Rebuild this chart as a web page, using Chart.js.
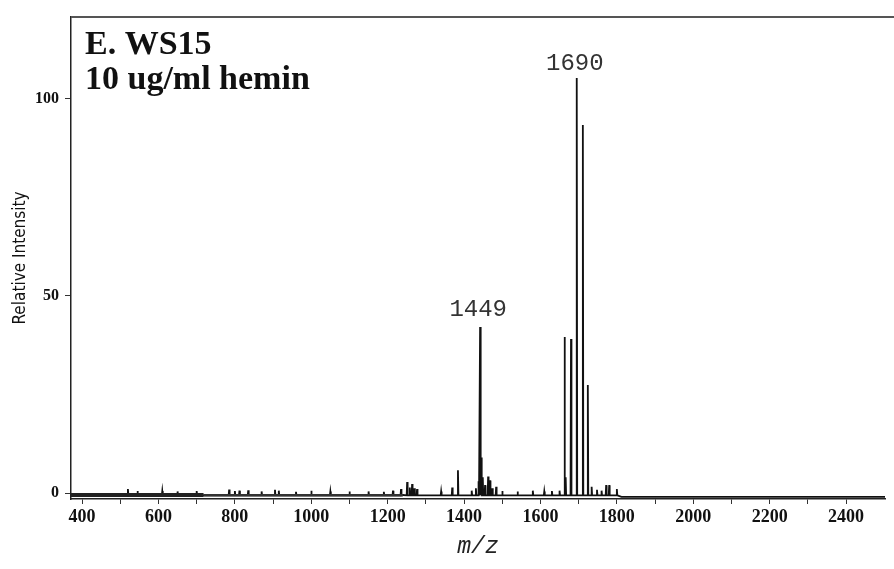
<!DOCTYPE html>
<html>
<head>
<meta charset="utf-8">
<script src="https://cdn.jsdelivr.net/npm/chart.js@4.4.1/dist/chart.umd.min.js"></script>
<style>
    html, body { margin: 0; padding: 0; background: #fff; }
    #wrap { width: 894px; height: 569px; position: relative; }
</style>
</head>
<body>
<div id="wrap"><canvas id="ms"></canvas></div>
<script>
// Sticks of the spectrum (m/z, relative intensity)
const peakMz = [520, 545, 610, 650, 700, 785, 800, 812, 835, 870, 905, 915, 960, 1000, 1050, 1100, 1150, 1190,
    1214, 1235, 1251, 1258, 1264, 1270, 1277, 1340, 1369, 1384, 1420, 1431, 1438, 1442, 1445, 1449, 1455,
    1463, 1468, 1474, 1484, 1500, 1540, 1580, 1610, 1630, 1650, 1663, 1666, 1680, 1695, 1711, 1724,
    1734, 1748, 1760, 1772, 1780, 1800];
const peakHeight = [1.0, 0.5, 0.5, 0.4, 0.5, 0.9, 0.5, 0.6, 0.7, 0.4, 0.8, 0.6, 0.3, 0.6, 0.4, 0.4, 0.4, 0.3,
    0.6, 1.0, 2.8, 1.4, 2.3, 1.2, 1.0, 0.4, 1.4, 5.8, 0.6, 1.2, 3.0, 42.1, 9.0, 4.0, 2.0,
    4.2, 3.2, 1.2, 1.6, 0.5, 0.4, 0.6, 0.4, 0.5, 0.6, 39.6, 4.0, 39.1, 105.3, 93.4, 27.4,
    1.6, 0.8, 0.6, 2.0, 2.0, 1.0];

// baseline between the sticks
const baseMz = [371, 718, 1000, 1240, 1500, 1650, 1803, 1812, 2502];
const baseLevel = [-0.5, -0.6, -0.6, -0.5, -0.6, -0.5, -0.6, -1.0, -1.0];
const footLevel = -0.6;

// thick noisy band at the low-mass end
const bandMz = [371, 718];
const bandLevel = [-0.5, -0.5];
const band2Mz = [718, 1240];
const band2Level = [-0.6, -0.6];

const xTicks = [400, 500, 600, 700, 800, 900, 1000, 1100, 1200, 1300, 1400, 1500, 1600, 1700, 1800,
    1900, 2000, 2100, 2200, 2300, 2400];
const yTicks = [0, 50, 100];

const peakLabels = ['1449', '1690'];
const peakLabelMz = [1437, 1690];
const peakLabelY = [46.5, 109];

const titleLines = ['E. WS15', '10 ug/ml hemin'];

function buildTrace() {
    const pts = [];
    baseMz.forEach((m, i) => pts.push({ x: m, y: baseLevel[i] }));
    peakMz.forEach((m, i) => {
        pts.push({ x: m - 1.2, y: footLevel });
        pts.push({ x: m, y: peakHeight[i] });
        pts.push({ x: m + 1.2, y: footLevel });
    });
    pts.sort((a, b) => a.x - b.x);
    return pts;
}

const decor = {
    id: 'decor',
    afterDraw(chart) {
        const ctx = chart.ctx;
        const area = chart.chartArea;
        const xs = chart.scales.x, ys = chart.scales.y;
        ctx.save();
        // top frame line runs to the edge
        ctx.strokeStyle = '#555';
        ctx.lineWidth = 2;
        ctx.beginPath();
        ctx.moveTo(area.left, area.top);
        ctx.lineTo(chart.width, area.top);
        ctx.stroke();

        // panel title
        ctx.fillStyle = '#111';
        ctx.font = 'bold 34px "Liberation Serif", "Times New Roman", serif';
        ctx.textAlign = 'left';
        ctx.textBaseline = 'alphabetic';
        ctx.fillText(titleLines[0], area.left + 14, area.top + 37);
        ctx.fillText(titleLines[1], area.left + 14, area.top + 72);

        // peak labels
        ctx.fillStyle = '#333';
        ctx.font = '24px "Liberation Mono", "Courier New", monospace';
        ctx.textAlign = 'center';
        ctx.textBaseline = 'middle';
        peakLabels.forEach((t, i) => {
            ctx.fillText(t, xs.getPixelForValue(peakLabelMz[i]), ys.getPixelForValue(peakLabelY[i]));
        });
        ctx.restore();
    }
};

new Chart(document.getElementById('ms'), {
    type: 'line',
    data: {
        datasets: [
            {
                data: bandMz.map((m, i) => ({ x: m, y: bandLevel[i] })),
                borderColor: '#222',
                borderWidth: 4
            },
            {
                data: band2Mz.map((m, i) => ({ x: m, y: band2Level[i] })),
                borderColor: '#333',
                borderWidth: 2.5
            },
            {
                data: buildTrace(),
                borderColor: '#111',
                borderWidth: 1.8
            }
        ]
    },
    options: {
        responsive: true,
        maintainAspectRatio: false,
        animation: false,
        layout: { padding: { top: 17, right: 9, left: 0, bottom: 0 } },
        elements: {
            point: { radius: 0 },
            line: { tension: 0, borderJoinStyle: 'miter' }
        },
        plugins: {
            legend: { display: false },
            tooltip: { enabled: false }
        },
        scales: {
            x: {
                type: 'linear',
                min: 371,
                max: 2502,
                afterBuildTicks: (s) => { s.ticks = xTicks.map(v => ({ value: v })); },
                afterFit: (s) => { s.height = 70; },
                border: { display: true, color: '#222', width: 1.5 },
                grid: { drawOnChartArea: false, drawTicks: true, tickLength: 5, color: '#333' },
                ticks: {
                    color: '#111',
                    padding: 3,
                    maxRotation: 0,
                    autoSkip: false,
                    font: { family: '"Liberation Serif", "Times New Roman", serif', size: 18, weight: 'bold' },
                    callback: (v) => (v % 200 === 0 ? String(v) : '')
                },
                title: {
                    display: true,
                    text: 'm/z',
                    color: '#222',
                    font: { family: '"Liberation Mono", "Courier New", monospace', size: 23, style: 'italic' },
                    padding: { top: 0, bottom: 8 }
                }
            },
            y: {
                min: -1.52,
                max: 120.8,
                afterBuildTicks: (s) => { s.ticks = yTicks.map(v => ({ value: v })); },
                afterFit: (s) => { s.width = 71; },
                border: { display: true, color: '#222', width: 1.5 },
                grid: { drawOnChartArea: false, drawTicks: true, tickLength: 6, color: '#333' },
                ticks: {
                    color: '#111',
                    padding: 6,
                    font: { family: '"Liberation Serif", "Times New Roman", serif', size: 16, weight: 'bold' }
                },
                title: {
                    display: true,
                    text: 'Relative Intensity',
                    color: '#111',
                    font: { family: '"Liberation Sans Narrow", "DejaVu Sans Condensed", sans-serif', size: 17 },
                    padding: { top: 10, bottom: 0 }
                }
            }
        }
    },
    plugins: [decor]
});
</script>
</body>
</html>
